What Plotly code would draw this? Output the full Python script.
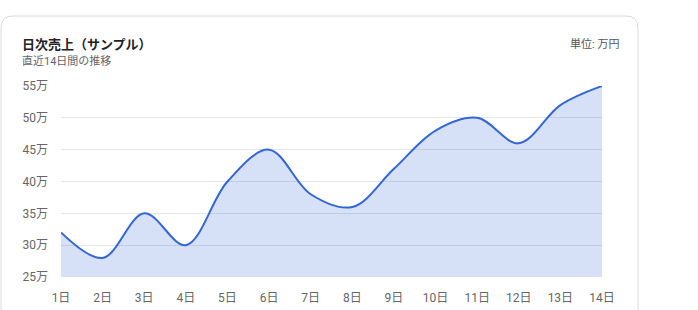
import plotly.graph_objects as go

days = ["1日", "2日", "3日", "4日", "5日", "6日", "7日", "8日", "9日", "10日", "11日", "12日", "13日", "14日"]
sales = [32, 28, 35, 30, 40, 45, 38, 36, 42, 48, 50, 46, 52, 55]
y_ticks = [25, 30, 35, 40, 45, 50, 55]
y_labels = ["25万", "30万", "35万", "40万", "45万", "50万", "55万"]

W, H = 698, 310
L, R, T, B = 61, W - 602, 86, H - 277
pw, ph = W - L - R, H - T - B

def px(x):
    return (x - L) / pw

def py(y):
    return (H - B - y) / ph

# rounded card path in paper coords
x0, x1, y0, y1, r = 1, 638, 16, 330, 12
card = (
    f"M {px(x0)},{py(y0 + r)} "
    f"Q {px(x0)},{py(y0)} {px(x0 + r)},{py(y0)} "
    f"L {px(x1 - r)},{py(y0)} "
    f"Q {px(x1)},{py(y0)} {px(x1)},{py(y0 + r)} "
    f"L {px(x1)},{py(y1)} L {px(x0)},{py(y1)} Z"
)

fig = go.Figure()
fig.add_trace(go.Scatter(
    x=days, y=sales, mode="lines",
    line=dict(color="#3366d6", width=2, shape="spline", smoothing=1.0),
    fill="tozeroy", fillcolor="rgba(51,102,214,0.2)",
    hoverinfo="skip",
))

font = "Roboto, 'Noto Sans CJK JP', sans-serif"
fig.update_layout(
    width=W, height=H,
    margin=dict(l=L, r=R, t=T, b=B, pad=0, autoexpand=False),
    paper_bgcolor="white", plot_bgcolor="white",
    showlegend=False,
    font=dict(family=font, size=12, color="#666"),
    xaxis=dict(
        range=[0, 13], showgrid=False, zeroline=False, showline=False,
        ticks="", tickfont=dict(size=12, color="#666"), fixedrange=True,
        tickmode="array", tickvals=list(range(len(days))), ticktext=days,
        ticklabelstandoff=12, automargin=False,
    ),
    yaxis=dict(
        range=[25, 55], tickvals=y_ticks, ticktext=y_labels,
        showgrid=True, gridcolor="#e6e6e6", gridwidth=1, zeroline=False,
        showline=False, ticks="", ticklabelstandoff=12, automargin=False,
        tickfont=dict(size=12, color="#666"), fixedrange=True,
    ),
    shapes=[dict(type="path", path=card, xref="paper", yref="paper",
                 line=dict(color="#dcdcdc", width=1), fillcolor="rgba(0,0,0,0)",
                 layer="below")],
    annotations=[
        dict(text="<b>日次売上（サンプル）</b>", x=px(20), y=py(44), xref="paper", yref="paper",
             xanchor="left", yanchor="middle", showarrow=False,
             font=dict(size=13, color="#222", family=font)),
        dict(text="直近14日間の推移", x=px(20), y=py(61), xref="paper", yref="paper",
             xanchor="left", yanchor="middle", showarrow=False,
             font=dict(size=11, color="#666", family=font)),
        dict(text="単位: 万円", x=px(621), y=py(44), xref="paper", yref="paper",
             xanchor="right", yanchor="middle", showarrow=False,
             font=dict(size=11, color="#555", family=font)),
    ],
)

fig.write_html("out.html")
